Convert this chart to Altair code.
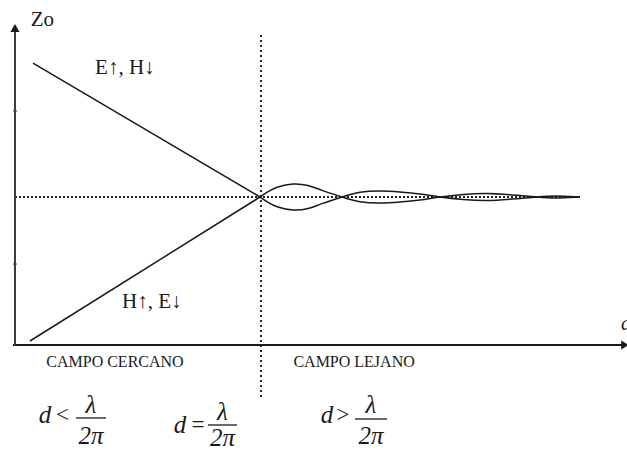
import altair as alt
import pandas as pd

# Distance d is measured in units of lambda/(2*pi); Zo is relative to its far-field value.

# Near field: the two straight branches meeting at d = lambda/(2*pi)
e_branch_d = [0.0735, 1.0]
e_branch_z = [1.905, 1.0]
h_branch_d = [0.0612, 1.0]
h_branch_z = [0.027, 1.0]

# Far field: the damped ripple around Zo = 1 (read-off swing of the upper curve)
far_d = [1.0, 1.033, 1.073, 1.135, 1.196, 1.253, 1.335, 1.408, 1.490, 1.571,
         1.653, 1.735, 1.829, 1.927, 2.029, 2.131, 2.204, 2.265, 2.306]
far_swing = [0.0, 0.036, 0.068, 0.088, 0.078, 0.045, 0.0, -0.032, -0.041, -0.034,
             -0.020, 0.0, 0.017, 0.024, 0.014, 0.0, -0.007, -0.003, 0.0]

# Reference level and boundary
zo_level = 1.0
boundary_d = 1.0
dotted_end_d = 2.298

# Small marks on the Zo axis
zo_ticks = [0.547, 1.581]

# Labels
label_e_up = "E\u2191, H\u2193"
label_h_up = "H\u2191, E\u2193"
region_labels = ["CAMPO CERCANO", "CAMPO LEJANO"]
relations = ["<", "=", ">"]

# ---------------------------------------------------------------- layout
X_DOMAIN = [-0.0612, 2.498]
Y_DOMAIN = [-0.7095, 2.331]
xs = alt.Scale(domain=X_DOMAIN, nice=False, zero=False)
ys = alt.Scale(domain=Y_DOMAIN, nice=False, zero=False)
SERIF = "Liberation Serif"
INK = "#1a1a1a"


def X(f):
    return alt.X(f, type="quantitative", scale=xs, axis=None)


def Y(f):
    return alt.Y(f, type="quantitative", scale=ys, axis=None)


# axes drawn as arrows
x_axis = alt.Chart(pd.DataFrame({"a": [-0.008], "b": [2.478], "z": [0.0]})).mark_rule(
    color=INK, strokeWidth=2
).encode(x=X("a"), x2="b", y=Y("z"))

y_axis = alt.Chart(pd.DataFrame({"d": [0.0], "a": [0.0], "b": [2.13]})).mark_rule(
    color="#3a3a3a", strokeWidth=2
).encode(x=X("d"), y=Y("a"), y2="b")

up_head = alt.Chart(pd.DataFrame({"d": [0.0], "z": [2.142]})).mark_point(
    shape="triangle-up", filled=True, size=85, color=INK, opacity=1
).encode(x=X("d"), y=Y("z"))

right_head = alt.Chart(pd.DataFrame({"d": [2.49], "z": [0.0]})).mark_point(
    shape="triangle-right", filled=True, size=80, color=INK, opacity=1
).encode(x=X("d"), y=Y("z"))

ticks = alt.Chart(pd.DataFrame({"d": [0.0] * len(zo_ticks), "z": zo_ticks})).mark_tick(
    orient="horizontal", size=4, thickness=1.5, color="#444"
).encode(x=X("d"), y=Y("z"))

# dotted guides
h_dotted = alt.Chart(pd.DataFrame({"a": [0.0], "b": [dotted_end_d], "z": [zo_level]})).mark_rule(
    color="#222", strokeWidth=2, strokeDash=[2, 2]
).encode(x=X("a"), x2="b", y=Y("z"))

v_dotted = alt.Chart(pd.DataFrame({"d": [boundary_d + 0.004], "a": [-0.351], "b": [2.095]})).mark_rule(
    color="#222", strokeWidth=2, strokeDash=[2, 3]
).encode(x=X("d"), y=Y("a"), y2="b")

# near-field branches
near_df = pd.DataFrame({
    "d": e_branch_d + h_branch_d,
    "z": e_branch_z + h_branch_z,
    "branch": ["E"] * 2 + ["H"] * 2,
})
near = alt.Chart(near_df).mark_line(color=INK, strokeWidth=1.5).encode(
    x=X("d"), y=Y("z"), detail="branch:N"
)

# far-field ripple, upper and lower curves
far_df = pd.DataFrame({
    "d": far_d + far_d,
    "z": [zo_level + s for s in far_swing] + [zo_level - s for s in far_swing],
    "curve": ["a"] * len(far_d) + ["b"] * len(far_d),
})
far = alt.Chart(far_df).mark_line(color=INK, strokeWidth=1.5, interpolate="natural").encode(
    x=X("d"), y=Y("z"), detail="curve:N"
)

# text
zo_label = alt.Chart(pd.DataFrame({"d": [0.112], "z": [2.196], "t": ["Zo"]})).mark_text(
    font=SERIF, fontSize=21, color=INK, baseline="middle", align="center"
).encode(x=X("d"), y=Y("z"), text="t:N")

d_label = alt.Chart(pd.DataFrame({"d": [2.473], "z": [0.14], "t": ["d"]})).mark_text(
    font=SERIF, fontSize=20, fontStyle="italic", color=INK, baseline="middle", align="left"
).encode(x=X("d"), y=Y("z"), text="t:N")

branch_labels = alt.Chart(pd.DataFrame({
    "d": [0.327, 0.437], "z": [1.872, 0.291], "t": [label_e_up, label_h_up]
})).mark_text(font=SERIF, fontSize=21, color=INK, baseline="middle", align="left").encode(
    x=X("d"), y=Y("z"), text="t:N"
)

regions = alt.Chart(pd.DataFrame({
    "d": [0.408, 1.384], "z": [-0.115, -0.115], "t": region_labels
})).mark_text(font=SERIF, fontSize=16, color=INK, baseline="middle", align="center").encode(
    x=X("d"), y=Y("z"), text="t:N"
)

# d <, =, > lambda / 2 pi
frac_x = [0.3102, 0.8469, 1.4531]
frac_bar_z = [-0.493, -0.5405, -0.500]
d_x = [0.1224, 0.6735, 1.2735]
op_x = [0.1939, 0.7469, 1.3388]
row_z = [-0.473, -0.5405, -0.473]
num_z = [-0.405, -0.4527, -0.405]
den_z = [-0.612, -0.628, -0.612]

italic_df = pd.DataFrame({
    "d": d_x + frac_x + frac_x,
    "z": row_z + num_z + den_z,
    "t": ["d"] * 3 + ["\u03bb"] * 3 + ["2\u03c0"] * 3,
})
italic = alt.Chart(italic_df).mark_text(
    font=SERIF, fontSize=25, fontStyle="italic", color=INK, baseline="middle", align="center"
).encode(x=X("d"), y=Y("z"), text="t:N")

ops = alt.Chart(pd.DataFrame({"d": op_x, "z": row_z, "t": relations})).mark_text(
    font=SERIF, fontSize=23, color=INK, baseline="middle", align="center"
).encode(x=X("d"), y=Y("z"), text="t:N")

bar_df = pd.DataFrame({
    "a": [0.249, 0.7878, 1.3878],
    "b": [0.3714, 0.9061, 1.5184],
    "z": frac_bar_z,
})
bars = alt.Chart(bar_df).mark_rule(color=INK, strokeWidth=1.3).encode(
    x=X("a"), x2="b", y=Y("z")
)

chart = alt.layer(
    h_dotted, v_dotted, x_axis, y_axis, up_head, right_head, ticks,
    near, far, zo_label, d_label, branch_labels, regions, italic, ops, bars,
).properties(
    width=627, height=450, autosize="none", padding=0, background="white"
).configure_view(stroke=None)

chart.save("out.html", embed_options={"renderer": "svg", "actions": False})
